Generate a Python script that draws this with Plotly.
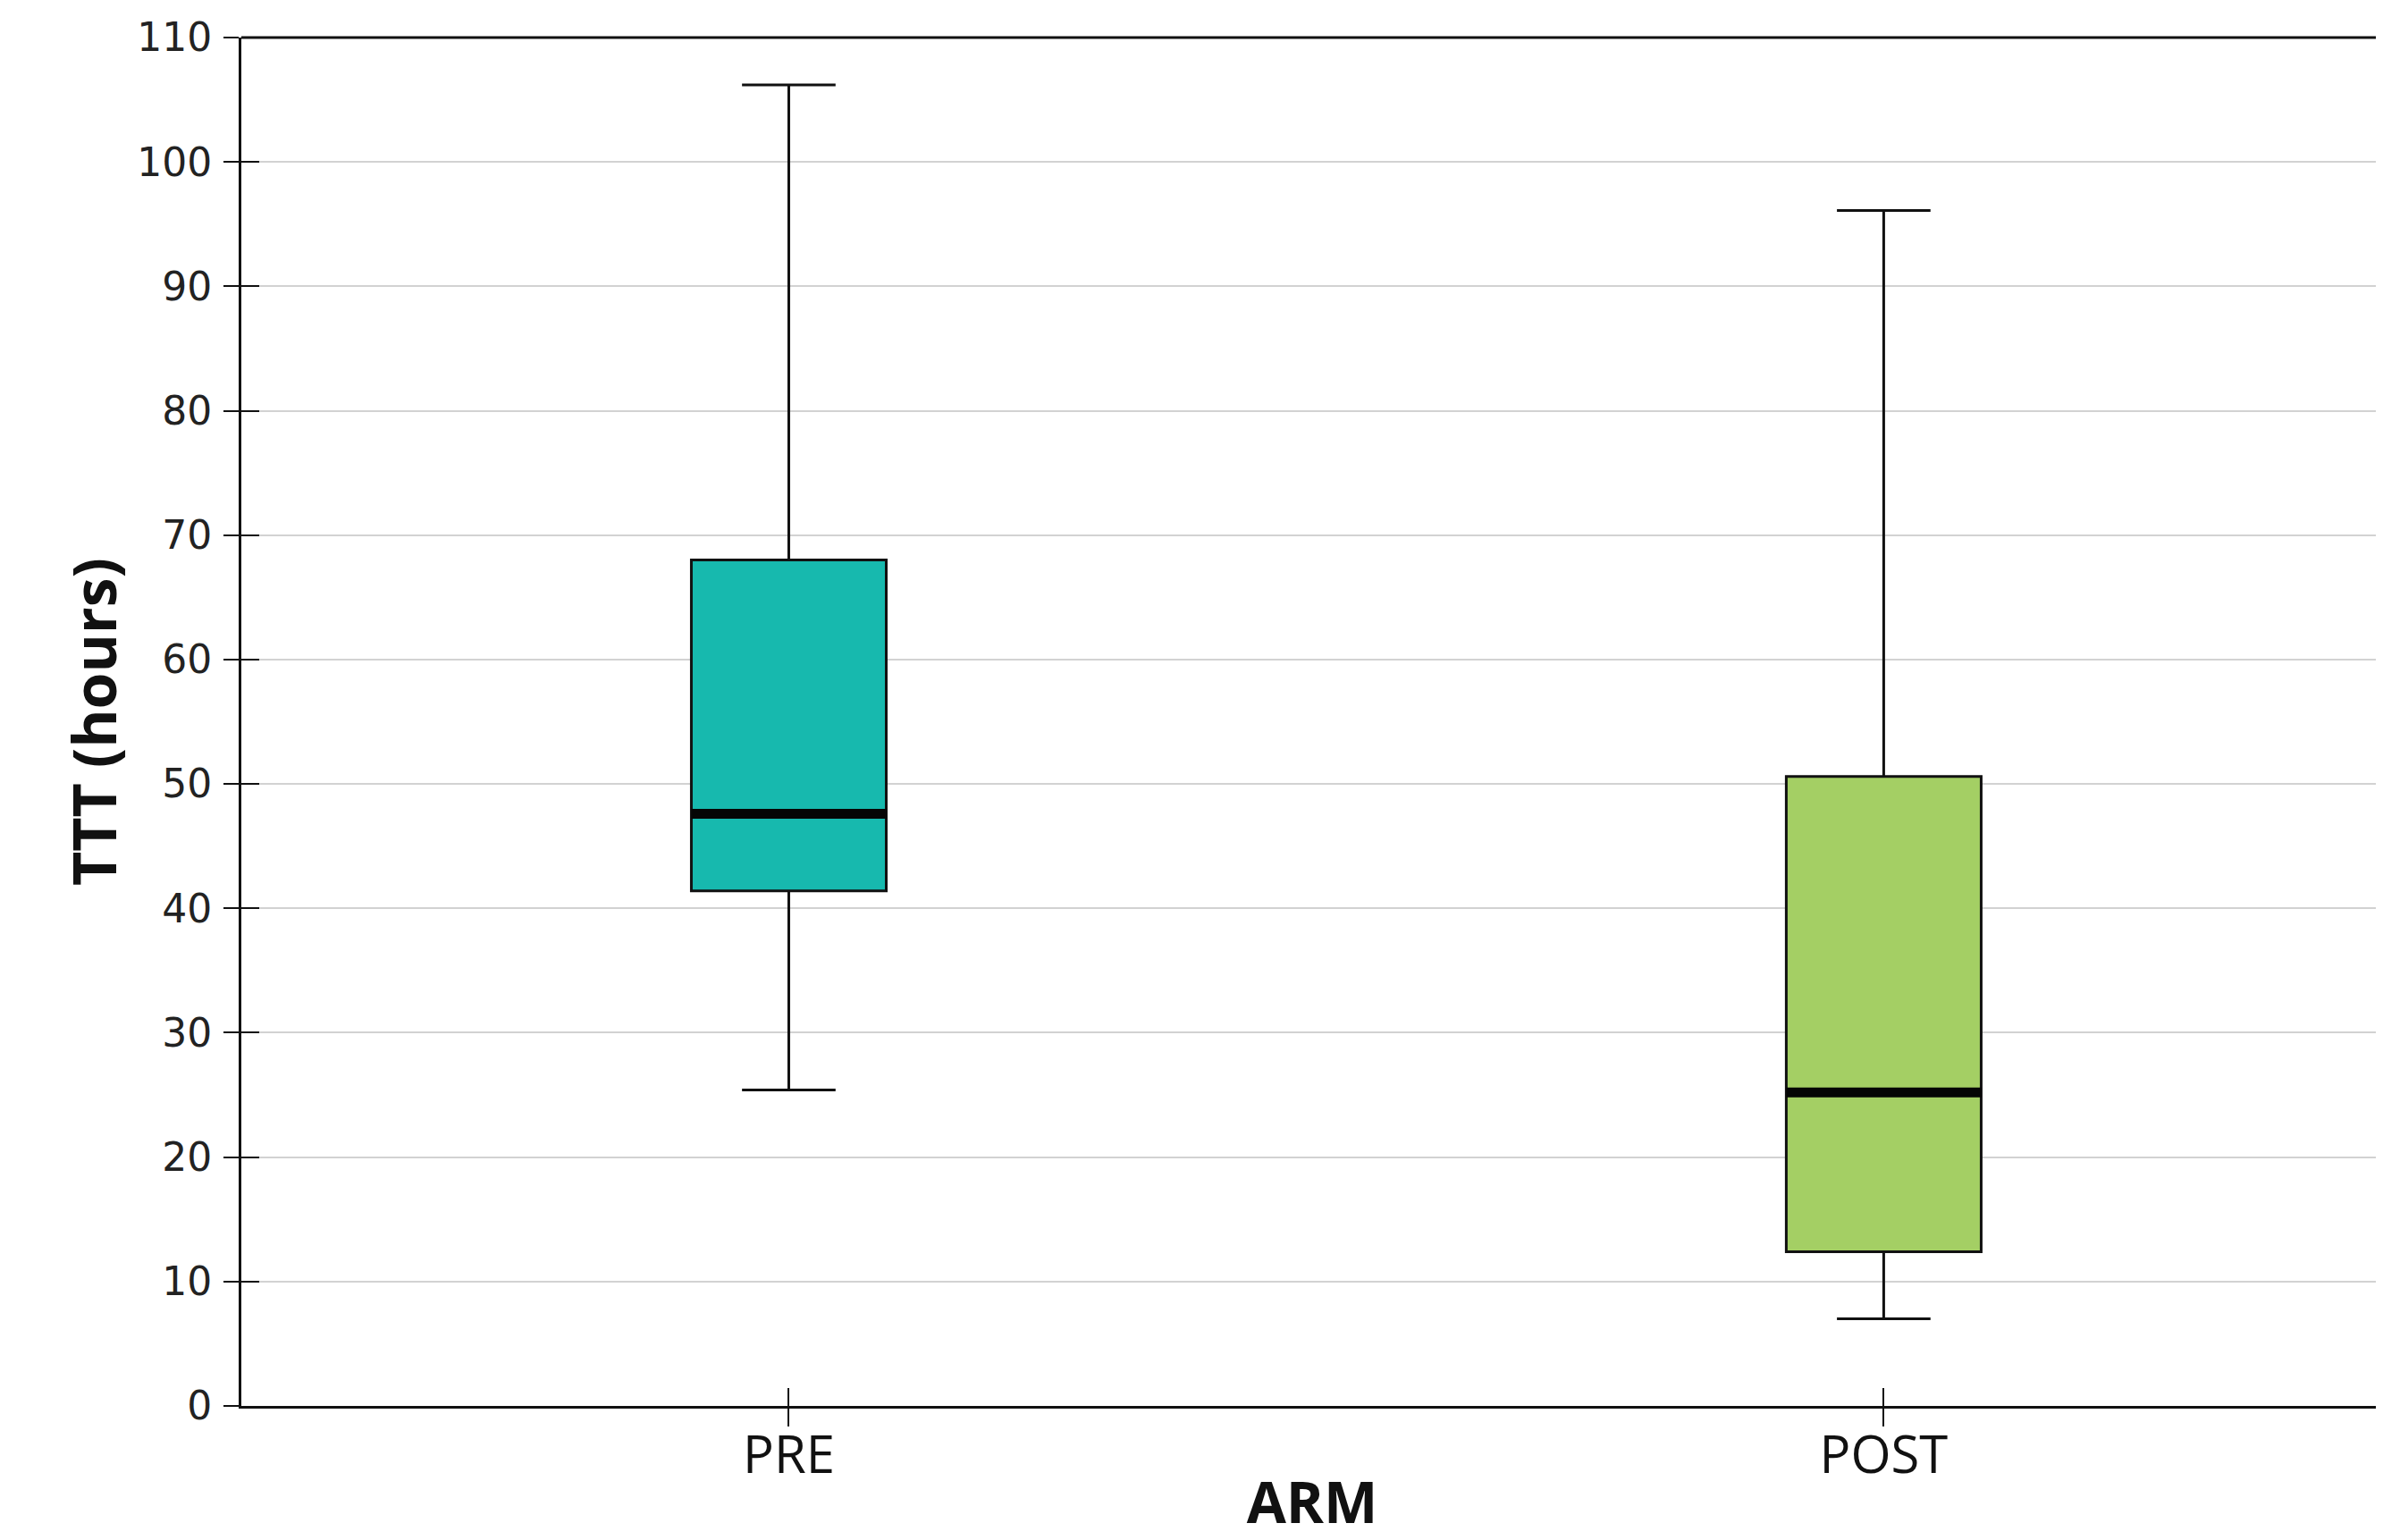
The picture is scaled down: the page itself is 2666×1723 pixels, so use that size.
import plotly.graph_objects as go

# ---- data ----
arms = ["PRE", "POST"]
positions = [0, 1]
lower_whisker = [25.4, 7.0]
q1_values = [41.4, 12.4]
median_values = [47.6, 25.2]
q3_values = [68.0, 50.6]
upper_whisker = [106.2, 96.1]
fill_colors = ["#17b9ae", "#a4cf64"]
y_ticks = [0, 10, 20, 30, 40, 50, 60, 70, 80, 90, 100, 110]

BOX_WIDTH = 0.178
X_RANGE = [-0.5, 1.456]
Y_RANGE = [0, 110]

fig = go.Figure()

for i, arm in enumerate(arms):
    fig.add_trace(go.Box(
        x=[positions[i]],
        q1=[q1_values[i]],
        median=[median_values[i]],
        q3=[q3_values[i]],
        lowerfence=[lower_whisker[i]],
        upperfence=[upper_whisker[i]],
        name=arm,
        width=BOX_WIDTH,
        whiskerwidth=0.48,
        fillcolor=fill_colors[i],
        line=dict(color="#111111", width=3),
        boxpoints=False,
        hoverinfo="skip",
        showlegend=False,
    ))

# thick median bars, drawn on an overlaid axis pair that also carries inner ticks
for i, arm in enumerate(arms):
    fig.add_trace(go.Scatter(
        x=[positions[i] - BOX_WIDTH / 2, positions[i] + BOX_WIDTH / 2],
        y=[median_values[i], median_values[i]],
        mode="lines",
        line=dict(color="#050505", width=11),
        xaxis="x2", yaxis="y2",
        hoverinfo="skip",
        showlegend=False,
    ))

tick_font = dict(family="DejaVu Sans", size=44, color="#222222")

fig.update_layout(
    width=2658, height=1715,
    paper_bgcolor="white", plot_bgcolor="white",
    margin=dict(l=262, r=0, t=34, b=150, autoexpand=False),
    xaxis=dict(
        range=X_RANGE, tickvals=positions, ticktext=arms,
        showline=True, linecolor="#111111", linewidth=3,
        ticks="outside", ticklen=20, tickwidth=2, tickcolor="#111111",
        showgrid=False, zeroline=False,
        tickfont=dict(family="Open Sans", size=58, color="#111111"),
        ticklabelstandoff=-18,
        title=dict(text="<b>ARM</b>", standoff=20,
                   font=dict(family="Open Sans", size=64, color="#111111")),
    ),
    yaxis=dict(
        range=Y_RANGE, tickvals=y_ticks,
        showline=True, linecolor="#111111", linewidth=3,
        ticks="outside", ticklen=17, tickwidth=2, tickcolor="#111111",
        showgrid=True, gridcolor="#d2d2d2", gridwidth=2, zeroline=False,
        tickfont=tick_font, ticklabelstandoff=4,
        title=dict(text="<b>TTT (hours)</b>", standoff=2,
                   font=dict(family="Open Sans", size=66, color="#111111")),
    ),
    xaxis2=dict(
        range=X_RANGE, overlaying="x", anchor="y2", side="bottom",
        tickvals=positions, showticklabels=False,
        ticks="inside", ticklen=20, tickwidth=2, tickcolor="#111111",
        showline=False, showgrid=False, zeroline=False,
    ),
    yaxis2=dict(
        range=Y_RANGE, overlaying="y", anchor="x2", side="left",
        tickvals=y_ticks, showticklabels=False,
        ticks="inside", ticklen=20, tickwidth=2, tickcolor="#111111",
        showline=False, showgrid=False, zeroline=False,
    ),
    shapes=[dict(type="line", xref="paper", yref="paper",
                 x0=0, x1=1, y0=1, y1=1,
                 line=dict(color="#111111", width=3))],
)

fig.write_html("out.html")
